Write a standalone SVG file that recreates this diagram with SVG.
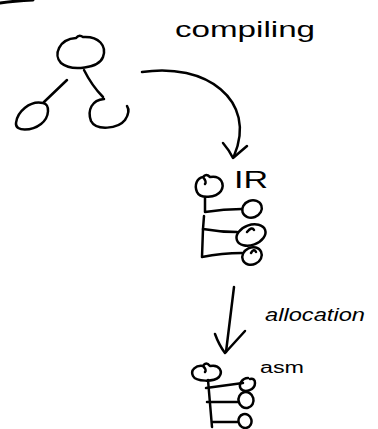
<svg xmlns="http://www.w3.org/2000/svg" width="378" height="429" viewBox="0 0 378 429">
  <style>
    .ink { fill: none; stroke: #000; stroke-width: 2.5; stroke-linecap: round; stroke-linejoin: round; }
    .label { font-family: "Liberation Sans", "DejaVu Sans", sans-serif; fill: #000; }
    .slant { font-style: italic; }
  </style>
  <rect width="378" height="429" fill="#fff"/>

  <!-- stray stroke along the top edge -->
  <path d="M 0 3 Q 14 1 33 0" fill="none" stroke="#000" stroke-width="3" stroke-linecap="round"/>

  <!-- source tree -->
  <g id="tree-root">
    <path class="ink" d="M 76 38 Q 79 34 83 37 C 99 36 107 46 103 57 C 99 68 72 72 61 63 C 53 55 59 39 76 38"/>
  </g>
  <g id="tree-left">
    <path class="ink" d="M 43 103 C 30 100 17 112 16 123 C 15 132 32 131 41 124 C 50 117 50 104 43 103"/>
  </g>
  <g id="tree-right">
    <path class="ink" d="M 104 99 C 92 100 87 110 91 121 C 96 131 118 129 125 120 C 129 114 129 109 127 106"/>
  </g>

  <!-- IR: chain of nodes hanging from a trunk -->
  <g id="ir-top">
    <path class="ink" d="M 203 177 Q 206 173 210 177 C 221 175 225 184 221 191 C 216 198 200 199 197 192 C 194 185 197 178 203 177 Q 207 182 205 184"/>
  </g>
  <g id="ir-child-1">
    <ellipse class="ink" cx="252" cy="209" rx="10" ry="8.5" transform="rotate(-20 252 209)"/>
  </g>
  <g id="ir-child-2">
    <ellipse class="ink" cx="251" cy="235" rx="15" ry="10" transform="rotate(-20 251 235)"/>
    <path class="ink" d="M 247 232 Q 252 226 254 230"/>
  </g>
  <g id="ir-child-3">
    <ellipse class="ink" cx="252" cy="256" rx="10" ry="8.5" transform="rotate(-25 252 256)"/>
    <path class="ink" d="M 251 253 Q 254 248 256 252"/>
  </g>
  <g id="ir-label">
    <text class="label" x="234" y="188" font-size="24" textLength="34" lengthAdjust="spacingAndGlyphs">IR</text>
  </g>

  <!-- asm: register-allocated chain -->
  <g id="asm-top">
    <path class="ink" d="M 203 366 Q 206 361 210 366 C 220 364 223 372 219 377 C 214 382 196 382 193 376 C 190 370 196 365 203 366 Q 207 370 205 372"/>
  </g>
  <g id="asm-child-1">
    <path class="ink" d="M 250 379 Q 255 378 255 383 C 255 390 245 393 241 389 C 238 385 242 378 248 378"/>
  </g>
  <g id="asm-child-2">
    <ellipse class="ink" cx="246" cy="400" rx="7.5" ry="8" transform="rotate(-15 246 400)"/>
  </g>
  <g id="asm-child-3">
    <ellipse class="ink" cx="245" cy="421" rx="6.5" ry="7" transform="rotate(-15 245 421)"/>
  </g>
  <g id="asm-label">
    <text class="label" x="260" y="373" font-size="16" textLength="44" lengthAdjust="spacingAndGlyphs">asm</text>
  </g>

  <!-- connectors: tree edges, trunks and transformation arrows -->
  <g id="connectors">
    <!-- tree edges -->
    <path class="ink" d="M 67 80 L 44 102"/>
    <path class="ink" d="M 84 70 Q 92 86 103 97"/>

    <!-- IR trunk and branches -->
    <path class="ink" d="M 205 198 L 205 212 Q 224 209 242 209"/>
    <path class="ink" d="M 204 216 L 203 229 Q 220 232 237 232"/>
    <path class="ink" d="M 203 229 L 202 257 Q 222 253 242 253"/>

    <!-- asm trunk and branches -->
    <path class="ink" d="M 208 380 L 212 427"/>
    <path class="ink" d="M 206 388 L 243 383"/>
    <path class="ink" d="M 207 402 L 239 402"/>
    <path class="ink" d="M 213 422 L 237 422"/>

    <!-- compiling arrow -->
    <path class="ink" d="M 142 72 C 205 62 258 100 234 156"/>
    <path class="ink" d="M 223 143 Q 229 150 233 158 L 247 146"/>

    <!-- allocation arrow -->
    <path class="ink" d="M 234 287 L 226 352"/>
    <path class="ink" d="M 215 334 Q 219 345 225 353 L 245 331"/>
  </g>

  <!-- transformation labels -->
  <g id="labels">
    <text class="label" x="175" y="37" font-size="22" textLength="140" lengthAdjust="spacingAndGlyphs">compiling</text>
    <text class="label slant" x="265" y="321" font-size="18" textLength="100" lengthAdjust="spacingAndGlyphs">allocation</text>
  </g>
</svg>
